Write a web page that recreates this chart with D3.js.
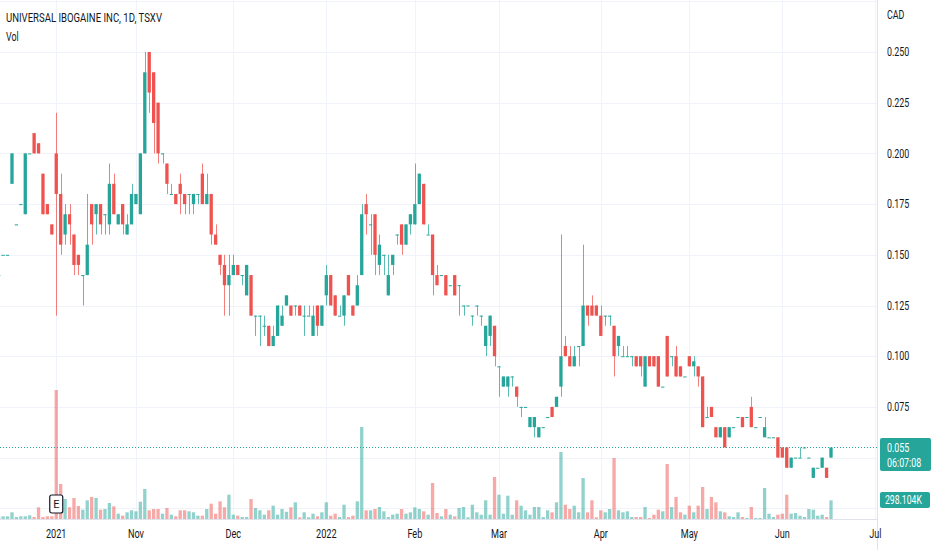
<!DOCTYPE html>
<meta charset="utf-8">
<style>
body { margin: 0; background: #fff; }
text { font-family: Roboto, sans-serif; fill: #131722; }
</style>
<svg width="932" height="550"></svg>
<script src="https://d3js.org/d3.v7.min.js"></script>
<script>

// daily bars [open, high, low, close], CAD
var ohlc = [
  [0.14,0.14,0.14,0.14],[0.15,0.15,0.15,0.15],[0.15,0.15,0.15,0.15],[0.185,0.2,0.185,0.2],
  [0.165,0.165,0.165,0.165],[0.175,0.175,0.175,0.175],[0.17,0.2,0.17,0.2],[0.2,0.2,0.2,0.2],
  [0.21,0.21,0.2,0.2],[0.205,0.205,0.2,0.2],[0.19,0.19,0.17,0.17],[0.175,0.175,0.17,0.17],
  [0.165,0.165,0.16,0.16],[0.2,0.22,0.12,0.18],[0.18,0.19,0.15,0.155],[0.16,0.175,0.155,0.17],
  [0.17,0.175,0.155,0.165],[0.16,0.16,0.14,0.145],[0.15,0.15,0.14,0.145],[0.14,0.14,0.125,0.14],
  [0.14,0.18,0.14,0.155],[0.175,0.175,0.155,0.165],[0.17,0.175,0.16,0.175],[0.175,0.175,0.16,0.165],
  [0.17,0.17,0.16,0.17],[0.165,0.195,0.16,0.185],[0.185,0.19,0.17,0.17],[0.165,0.17,0.165,0.17],
  [0.175,0.175,0.16,0.165],[0.16,0.17,0.16,0.165],[0.165,0.185,0.165,0.18],[0.175,0.18,0.175,0.18],
  [0.17,0.2,0.17,0.2],[0.2,0.25,0.2,0.24],[0.25,0.25,0.22,0.23],[0.24,0.24,0.2,0.215],
  [0.225,0.225,0.195,0.2],[0.2,0.2,0.195,0.2],[0.195,0.195,0.18,0.185],[0.18,0.185,0.18,0.18],
  [0.18,0.18,0.175,0.175],[0.185,0.19,0.17,0.18],[0.18,0.18,0.17,0.175],[0.18,0.18,0.17,0.18],
  [0.175,0.18,0.17,0.18],[0.18,0.18,0.175,0.18],[0.19,0.195,0.175,0.175],[0.175,0.19,0.175,0.18],
  [0.18,0.18,0.155,0.16],[0.16,0.165,0.155,0.155],[0.15,0.15,0.14,0.145],[0.145,0.15,0.12,0.135],
  [0.135,0.15,0.12,0.14],[0.14,0.15,0.14,0.145],[0.145,0.145,0.14,0.14],[0.14,0.14,0.135,0.14],
  [0.13,0.145,0.13,0.145],[0.14,0.14,0.12,0.12],[0.12,0.12,0.11,0.12],[0.12,0.12,0.105,0.12],
  [0.115,0.12,0.11,0.115],[0.115,0.115,0.105,0.105],[0.105,0.115,0.105,0.11],[0.11,0.125,0.11,0.125],
  [0.115,0.125,0.115,0.12],[0.125,0.13,0.125,0.13],[0.125,0.125,0.12,0.12],[0.125,0.125,0.12,0.125],
  [0.125,0.125,0.12,0.12],[0.12,0.125,0.11,0.12],[0.12,0.125,0.12,0.12],[0.11,0.125,0.11,0.12],
  [0.125,0.125,0.11,0.115],[0.115,0.125,0.115,0.125],[0.13,0.145,0.125,0.14],[0.14,0.14,0.125,0.125],
  [0.13,0.13,0.12,0.12],[0.12,0.125,0.12,0.12],[0.12,0.13,0.115,0.13],[0.14,0.14,0.13,0.13],
  [0.125,0.125,0.12,0.12],[0.125,0.14,0.125,0.135],[0.14,0.175,0.14,0.17],[0.175,0.18,0.16,0.17],
  [0.165,0.17,0.15,0.165],[0.17,0.17,0.14,0.15],[0.145,0.16,0.14,0.155],[0.15,0.15,0.14,0.15],
  [0.13,0.15,0.13,0.14],[0.145,0.15,0.14,0.15],[0.16,0.16,0.155,0.16],[0.165,0.165,0.15,0.155],
  [0.155,0.165,0.155,0.165],[0.165,0.17,0.16,0.17],[0.165,0.195,0.165,0.175],[0.175,0.19,0.175,0.19],
  [0.185,0.185,0.165,0.165],[0.16,0.165,0.16,0.16],[0.16,0.16,0.13,0.14],[0.14,0.145,0.135,0.135],
  [0.14,0.14,0.14,0.14],[0.14,0.14,0.13,0.13],[0.135,0.135,0.135,0.135],[0.14,0.14,0.13,0.13],
  [0.135,0.135,0.12,0.135],[0.125,0.125,0.12,0.125],[0.125,0.125,0.125,0.125],[0.12,0.12,0.115,0.12],
  [0.125,0.125,0.12,0.125],[0.12,0.12,0.115,0.12],[0.105,0.115,0.1,0.115],[0.11,0.12,0.105,0.12],
  [0.115,0.115,0.095,0.1],[0.095,0.095,0.08,0.095],[0.085,0.09,0.085,0.09],[0.085,0.09,0.08,0.09],
  [0.09,0.09,0.085,0.09],[0.085,0.085,0.075,0.08],[0.075,0.075,0.07,0.075],[0.075,0.075,0.075,0.075],
  [0.065,0.07,0.065,0.07],[0.065,0.07,0.06,0.07],[0.06,0.065,0.06,0.065],[0.065,0.065,0.065,0.065],
  [0.07,0.07,0.07,0.07],[0.075,0.075,0.07,0.07],[0.075,0.08,0.075,0.08],[0.085,0.16,0.08,0.1],
  [0.105,0.11,0.1,0.1],[0.1,0.105,0.095,0.095],[0.095,0.105,0.095,0.1],[0.105,0.105,0.095,0.105],
  [0.105,0.155,0.105,0.125],[0.125,0.125,0.115,0.12],[0.125,0.13,0.12,0.12],[0.125,0.125,0.12,0.12],
  [0.12,0.125,0.11,0.11],[0.12,0.12,0.115,0.12],[0.12,0.12,0.115,0.12],[0.115,0.115,0.09,0.1],
  [0.105,0.11,0.1,0.11],[0.1,0.105,0.1,0.1],[0.1,0.105,0.1,0.1],[0.1,0.1,0.095,0.1],
  [0.1,0.1,0.095,0.095],[0.1,0.1,0.09,0.095],[0.085,0.1,0.085,0.1],[0.1,0.1,0.095,0.095],
  [0.1,0.1,0.095,0.095],[0.1,0.1,0.085,0.085],[0.085,0.085,0.085,0.085],[0.11,0.11,0.09,0.09],
  [0.1,0.1,0.095,0.1],[0.1,0.105,0.09,0.09],[0.095,0.095,0.09,0.09],[0.09,0.09,0.09,0.09],
  [0.1,0.1,0.095,0.095],[0.095,0.1,0.09,0.0975],[0.095,0.095,0.085,0.09],[0.09,0.09,0.065,0.065],
  [0.07,0.075,0.07,0.07],[0.075,0.075,0.07,0.07],[0.065,0.065,0.06,0.06],[0.06,0.065,0.06,0.065],
  [0.065,0.065,0.055,0.055],[0.06,0.065,0.06,0.065],[0.065,0.065,0.065,0.065],[0.07,0.07,0.07,0.07],
  [0.07,0.07,0.065,0.065],[0.07,0.07,0.07,0.07],[0.075,0.08,0.065,0.065],[0.065,0.065,0.065,0.065],
  [0.07,0.07,0.07,0.07],[0.06,0.07,0.06,0.065],[0.06,0.06,0.06,0.06],[0.06,0.06,0.06,0.06],
  [0.06,0.06,0.05,0.05],[0.055,0.055,0.05,0.05],[0.055,0.055,0.045,0.045],[0.045,0.05,0.045,0.05],
  [0.05,0.05,0.05,0.05],[0.05,0.055,0.05,0.05],[0.055,0.055,0.055,0.055],[0.05,0.05,0.05,0.05],
  [0.04,0.045,0.04,0.045],[0.045,0.045,0.045,0.045],[0.045,0.05,0.045,0.05],[0.045,0.045,0.04,0.04],
  [0.05,0.055,0.05,0.055]
];

// volume in thousands
var volume = [
  30,43,43,107,32,43,43,59,32,187,32,43,43,2064,560,320,187,336,208,149,
  299,352,336,149,160,256,203,85,53,107,139,123,277,480,139,160,160,85,176,69,
  43,139,139,123,107,53,53,160,245,85,283,187,389,69,53,32,32,320,176,139,
  69,139,213,69,160,115,187,267,27,107,27,85,43,107,267,53,85,32,229,32,
  53,283,1472,139,139,160,192,123,32,69,85,160,85,107,187,160,123,69,576,96,
  43,160,69,43,176,192,27,229,107,69,299,69,672,389,85,373,69,299,213,139,
  69,192,192,32,139,107,267,1072,229,160,213,107,656,107,299,27,139,107,160,976,
  139,107,123,32,32,32,192,16,69,149,123,880,192,352,107,69,213,107,213,512,
  160,352,267,123,107,43,32,107,32,16,192,16,16,496,85,32,69,85,389,85,
  96,53,32,160,149,53,69,32,298.104
];

var monthLabels = ["2021","Nov","Dec","2022","Feb","Mar","Apr","May","Jun","Jul"];
var monthBar    = [13, 31, 53, 74, 94, 113, 136, 156, 177, 198];
var priceTicks  = [0.025,0.05,0.075,0.1,0.125,0.15,0.175,0.2,0.225,0.25,0.275];

var up = "#26a69a", down = "#ef5350";
var upVol = "rgba(38,166,154,0.5)", downVol = "rgba(239,83,80,0.5)";

var svg = d3.select("svg");
var plotW = 877.5, plotH = 519;

var x = d3.scaleLinear().domain([0, ohlc.length - 1]).range([-1.3, 831]);
var y = d3.scaleLinear().domain([0.025, 0.25]).range([508.3, 52]);
var yVol = d3.scaleLinear().domain([0, d3.max(volume)]).range([plotH, 390]);
var bw = 3.3;

svg.append("clipPath").attr("id", "plot")
  .append("rect").attr("width", plotW).attr("height", plotH);

// grid
var grid = svg.append("g").attr("stroke", "#f0f3fa").attr("stroke-width", 1);
grid.selectAll(".h").data(priceTicks).enter().append("line")
  .attr("x1", 0).attr("x2", plotW)
  .attr("y1", function(d) { return Math.round(y(d)) + 0.5; })
  .attr("y2", function(d) { return Math.round(y(d)) + 0.5; });
grid.selectAll(".v").data(monthBar).enter().append("line")
  .attr("y1", 0).attr("y2", plotH)
  .attr("x1", function(d) { return Math.round(x(d)) + 0.5; })
  .attr("x2", function(d) { return Math.round(x(d)) + 0.5; });

var isUp = function(d) { return d[3] >= d[0]; };

var chart = svg.append("g").attr("clip-path", "url(#plot)");

// volume
chart.append("g").selectAll("rect").data(volume).enter().append("rect")
  .attr("x", function(d, i) { return x(i) - bw / 2; })
  .attr("width", bw)
  .attr("y", function(d) { return yVol(d); })
  .attr("height", function(d) { return plotH - yVol(d); })
  .attr("fill", function(d, i) { return isUp(ohlc[i]) ? upVol : downVol; });

// current price line
chart.append("line")
  .attr("x1", 0).attr("x2", plotW)
  .attr("y1", Math.round(y(0.055)) + 0.5).attr("y2", Math.round(y(0.055)) + 0.5)
  .attr("stroke", up).attr("stroke-width", 1).attr("stroke-dasharray", "1,2");

// candles
var candle = chart.append("g").selectAll("g").data(ohlc).enter().append("g");
candle.append("line")
  .attr("x1", function(d, i) { return Math.round(x(i)) + 0.5; })
  .attr("x2", function(d, i) { return Math.round(x(i)) + 0.5; })
  .attr("y1", function(d) { return y(d[1]); })
  .attr("y2", function(d) { return y(d[2]); })
  .attr("stroke", function(d) { return isUp(d) ? up : down; })
  .attr("stroke-opacity", 0.75)
  .attr("stroke-width", 1);
candle.append("rect")
  .attr("x", function(d, i) { return x(i) - bw / 2; })
  .attr("width", bw)
  .attr("y", function(d) { return y(Math.max(d[0], d[3])); })
  .attr("height", function(d) { return Math.max(1, Math.abs(y(d[0]) - y(d[3]))); })
  .attr("fill", function(d) { return isUp(d) ? up : down; });

// axes borders
svg.append("line").attr("x1", plotW).attr("x2", plotW).attr("y1", 0).attr("y2", 550)
  .attr("stroke", "#e0e3eb");
svg.append("line").attr("x1", 0).attr("x2", plotW).attr("y1", plotH + 0.5).attr("y2", plotH + 0.5)
  .attr("stroke", "#e0e3eb");

function squeeze(sel, k) {
  sel.each(function() {
    var n = this.getComputedTextLength();
    d3.select(this).attr("textLength", n * k).attr("lengthAdjust", "spacingAndGlyphs");
  });
}

// price axis (0.050 and 0.025 sit under the badges)
var yAxis = svg.append("g");
yAxis.selectAll("text").data(priceTicks.filter(function(d) { return d <= 0.25 && d > 0.05; }))
  .enter().append("text")
  .attr("x", 887).attr("y", function(d) { return y(d); })
  .attr("dy", "0.35em").attr("font-size", 12)
  .text(function(d) { return d3.format(".3f")(d); })
  .call(squeeze, 0.74);
yAxis.append("text").attr("x", 887).attr("y", 15).attr("dy", "0.35em")
  .attr("font-size", 12).text("CAD").call(squeeze, 0.74);

// time axis
svg.append("g").selectAll("text").data(monthLabels).enter().append("text")
  .attr("x", function(d, i) { return x(monthBar[i]); })
  .attr("y", 534).attr("dy", "0.35em")
  .attr("text-anchor", "middle").attr("font-size", 12)
  .text(function(d) { return d; })
  .call(squeeze, 0.76);

// last price / volume badges
var last = ohlc[ohlc.length - 1];
svg.append("rect").attr("x", 880).attr("y", 438).attr("width", 51).attr("height", 33)
  .attr("rx", 2).attr("fill", up);
svg.append("text").attr("x", 887).attr("y", 447.5).attr("dy", "0.35em")
  .attr("font-size", 12).style("fill", "#fff")
  .text(d3.format(".3f")(last[3])).call(squeeze, 0.74);
svg.append("text").attr("x", 887).attr("y", 462.5).attr("dy", "0.35em")
  .attr("font-size", 12).style("fill", "#fff")
  .text("06:07:08").call(squeeze, 0.74);

svg.append("rect").attr("x", 880).attr("y", 492).attr("width", 50).attr("height", 16)
  .attr("rx", 2).attr("fill", up);
svg.append("text").attr("x", 885).attr("y", 500).attr("dy", "0.35em")
  .attr("font-size", 12).style("fill", "#fff")
  .text(d3.format(".3f")(volume[volume.length - 1]) + "K").call(squeeze, 0.72);

// earnings marker
var em = svg.append("g").attr("transform", "translate(" + x(13) + ",504)");
em.append("rect").attr("x", -6.5).attr("y", -9).attr("width", 13).attr("height", 18)
  .attr("rx", 2).attr("fill", "#fff").attr("stroke", "#131722").attr("stroke-width", 1.2);
em.append("text").attr("text-anchor", "middle").attr("dy", "0.35em")
  .attr("font-size", 11).text("E");

// legend
svg.append("text").attr("x", 6).attr("y", 18).attr("dy", "0.35em")
  .attr("font-size", 12).text("UNIVERSAL IBOGAINE INC, 1D, TSXV")
  .attr("textLength", 156).attr("lengthAdjust", "spacingAndGlyphs");
svg.append("text").attr("x", 6).attr("y", 37).attr("dy", "0.35em")
  .attr("font-size", 12).text("Vol").call(squeeze, 0.74);

</script>
